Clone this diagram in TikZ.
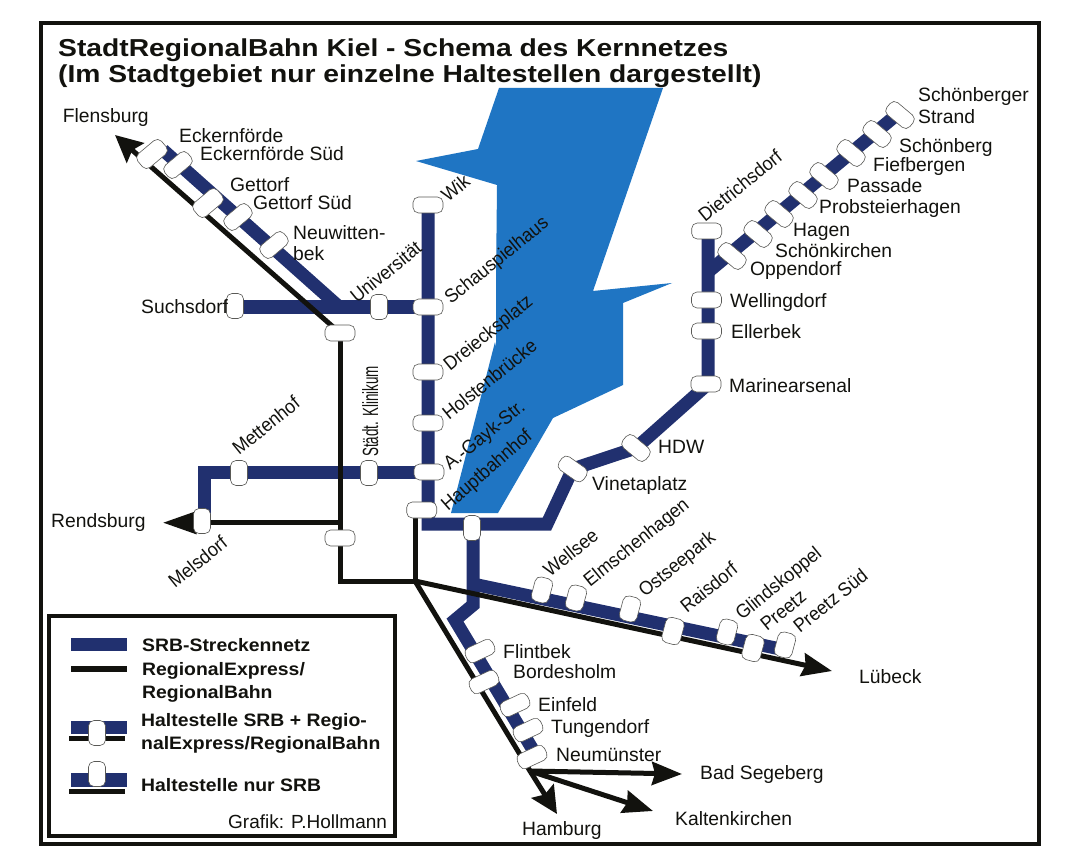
\documentclass[tikz,border=0pt]{standalone}
\usepackage{fontspec}
\usepackage{graphicx}
\setmainfont{Liberation Sans}
\usetikzlibrary{arrows.meta,backgrounds}
\definecolor{srb}{HTML}{21306F}
\definecolor{fjord}{HTML}{1F75C3}
\definecolor{ink}{HTML}{12120E}
\newcommand{\wideT}[1]{\scalebox{1.153}[1]{#1}}
\newcommand{\wideL}[1]{\scalebox{1.077}[1]{#1}}
\newcommand{\slimR}[1]{\scalebox{0.93}[1]{#1}}
\tikzset{
  stop/.style={draw=ink!70,line width=0.6pt,fill=white,minimum width=30pt,minimum height=16pt,inner sep=0pt,rounded corners=5.5pt},
  bigstop/.style={stop,minimum width=31pt,minimum height=18pt},
  vstop/.style={stop,rotate=90,minimum width=25pt,minimum height=17pt},
  lab/.style={inner sep=0pt,anchor=base west,text=ink,font=\fontsize{19.3}{21}\selectfont},
  rlab/.style={lab,rotate=39},
  ttl/.style={inner sep=0pt,anchor=base west,text=ink,font=\fontsize{24.5}{26}\selectfont\bfseries},
  leg/.style={inner sep=0pt,anchor=base west,text=ink,font=\fontsize{18}{20}\selectfont\bfseries},
  navy/.style={draw=srb,line width=13pt,line join=miter},
  rail/.style={draw=ink,line width=5pt,line join=miter},
  head/.style={-{Stealth[length=30pt,width=23pt,inset=3pt]}},
  bluntHead/.style={-{Stealth[length=27pt,width=26pt,inset=4pt]}},
  longHead/.style={-{Stealth[length=33pt,width=22pt,inset=1pt]}},
}
\begin{document}
\begin{tikzpicture}[x=1pt,y=-1pt]
\useasboundingbox (0,0) rectangle (1067,866);

% ---- stops
\node[bigstop,rotate=40] (eck) at (152,154) {};
\node[stop,rotate=40] (ecks) at (178,165) {};
\node[bigstop,rotate=40] (get) at (208,203) {};
\node[stop,rotate=40] (gets) at (238,217) {};
\node[stop,rotate=40] (neu) at (274,245) {};
\node[vstop] (such) at (235,306) {};
\node[vstop] (uni) at (379,307) {};
\node[stop] (wik) at (428,205) {};
\node[stop] (schau) at (428,307) {};
\node[stop] (drei) at (428,372) {};
\node[stop] (holst) at (428,423) {};
\node[stop] (gayk) at (429,472) {};
\node[stop] (hbf) at (421.7,510) {};
\node[stop] (uk1) at (340,333) {};
\node[stop] (uk2) at (340,538) {};
\node[vstop] (mett) at (239,473) {};
\node[vstop] (klin) at (369,473) {};
\node[vstop] (mels) at (202,521) {};
\node[vstop] (hbfs) at (472,528) {};
\node[stop,rotate=-35] (vine) at (572.7,469) {};
\node[stop,rotate=-40] (hdw) at (636,448) {};
\node[stop] (mar) at (706,384) {};
\node[stop] (ell) at (706.5,331) {};
\node[stop] (well) at (706.5,300) {};
\node[stop] (diet) at (706.7,231) {};
\node[stop,rotate=-40] (opp) at (732,256) {};
\node[stop,rotate=-40] (kirch) at (758,234) {};
\node[stop,rotate=-40] (hag) at (779,214) {};
\node[stop,rotate=-40] (prob) at (803,195) {};
\node[stop,rotate=-40] (pass) at (824,176) {};
\node[stop,rotate=-40] (fief) at (851,153) {};
\node[stop,rotate=-40] (schoen) at (877,134) {};
\node[stop,rotate=-40] (strand) at (900,115) {};
\node[stop,rotate=75,minimum width=25pt,minimum height=18pt] (wells) at (542,590) {};
\node[stop,rotate=75,minimum width=25pt,minimum height=18pt] (elm) at (576,598) {};
\node[stop,rotate=75,minimum width=25pt,minimum height=18pt] (ost) at (630,609) {};
\node[stop,rotate=75,minimum width=26pt,minimum height=19pt] (rais) at (673,631) {};
\node[stop,rotate=75,minimum width=25pt,minimum height=18pt] (glind) at (727,632) {};
\node[stop,rotate=75,minimum width=26pt,minimum height=19pt] (pree) at (753,648) {};
\node[stop,rotate=75,minimum width=25pt,minimum height=18pt] (prees) at (785,645) {};
\node[stop,rotate=25] (flint) at (480,651) {};
\node[stop,rotate=25] (bord) at (484,682) {};
\node[stop,rotate=25] (einf) at (515,705) {};
\node[stop,rotate=25] (tung) at (528,730) {};
\node[stop,rotate=25] (neum) at (532,757) {};

% ---- junctions and free ends
\coordinate (jx) at (415,581);
\coordinate (jn) at (530,771);
\coordinate (hbfb) at (415,510);
\coordinate (c1) at (340,581);
\coordinate (c2) at (340,522.7);
\coordinate (tflen) at (115,135);
\coordinate (trend) at (163,522.7);
\coordinate (tlub) at (832,671);
\coordinate (tseg) at (682,774);
\coordinate (tkalt) at (653,811);
\coordinate (tham) at (557,814);
\coordinate (nflen) at (163,150);
\coordinate (nj) at (337,305);
\coordinate (nsuch) at (235,307);
\coordinate (nmain) at (428,307);
\coordinate (nc1) at (428,524);
\coordinate (nc2) at (547,524);
\coordinate (nm1) at (204,472);
\coordinate (nm2) at (204,521);
\coordinate (nd1) at (708,384);
\coordinate (nd2) at (708,231);
\coordinate (nb1) at (708,272);
\coordinate (nb2) at (900,112);
\coordinate (ns1) at (473,524);
\coordinate (ns2) at (473,605);
\coordinate (ns3) at (455,620);
\coordinate (ns4) at (533,750);
\coordinate (nl1) at (473,584);
\coordinate (nl2) at (785,650);

\begin{scope}[on background layer]
  \fill[white] (0,0) rectangle (1067,866);
  \fill[fjord] (499,88) -- (663,88) -- (593,291) -- (672,283) -- (623,303) -- (623,385) -- (553,418) -- (498,513) -- (451,513) -- (495,342) -- (496,347) -- (496,280) -- (497,185) -- (416,161) -- (478,149) -- cycle;
  % SRB network
  \draw[navy] (nflen) -- (nj);
  \draw[navy] (nsuch) -- (nmain);
  \draw[navy] (wik.center) -- (nc1) -- (nc2) -- (vine.center) -- (hdw.center) -- (nd1) -- (nd2);
  \draw[navy] (nb1) -- (nb2);
  \draw[navy] (gayk.center) -- (nm1) -- (nm2);
  \draw[navy] (ns1) -- (ns2) -- (ns3) -- (ns4);
  \draw[navy] (nl1) -- (nl2);
  % RE / RB
  \draw[rail,bluntHead] (uk1.center) -- (tflen);
  \draw[rail] (uk1.center) -- (c1) -- (jx);
  \draw[rail,longHead] (c2) -- (trend);
  \draw[rail] (hbfb) -- (jx);
  \draw[rail,head] (jx) -- (tlub);
  \draw[rail] (jx) -- (jn);
  \draw[rail,bluntHead] (jn) -- (tham);
  \draw[rail,head] (jn) -- (tseg);
  \draw[rail,head] (jn) -- (tkalt);
\end{scope}

% ---- frame
\draw[ink,line width=4pt] (41,23) rectangle (1039,844);

% ---- title
\node[ttl] (t1) at (58,57) {\wideT{StadtRegionalBahn Kiel - Schema des Kernnetzes}};
\node[ttl] (t2) at (58,83) {\wideT{(Im Stadtgebiet nur einzelne Haltestellen dargestellt)}};

% ---- labels
\node[lab] (lflen) at (62.7,123) {Flensburg};
\node[lab] (leck) at (179,143) {Eckernförde};
\node[lab] (lecks) at (200,161) {Eckernförde Süd};
\node[lab] (lget) at (230,192) {Gettorf};
\node[lab] (lgets) at (253,210) {Gettorf Süd};
\node[lab] (lneu) at (293,240) {Neuwitten-};
\node[lab] (lneub) at (293,261) {bek};
\node[lab] (lsuch) at (141,313) {Suchsdorf};
\node[rlab] (luni) at (357,304) {\slimR{Universität}};
\node[rlab] (lwik) at (448,203) {\slimR{Wik}};
\node[rlab] (lschau) at (451,305) {\slimR{Schauspielhaus}};
\node[rlab] (ldrei) at (450,372) {\slimR{Dreiecksplatz}};
\node[rlab] (lholst) at (449,421) {\slimR{Holstenbrücke}};
\node[rlab] (lgayk) at (450,471) {\slimR{A.-Gayk-Str.}};
\node[rlab,rotate=2] (lhbf) at (448,512) {\slimR{Hauptbahnhof}};
\node[rlab] (lmett) at (239,456) {\slimR{Mettenhof}};
\node[lab,rotate=90] (lklin) at (378,457) {\fontsize{22}{24}\selectfont\scalebox{0.61}[1]{Städt. Klinikum}};
\node[rlab] (lmels) at (175,589) {\slimR{Melsdorf}};
\node[lab] (lrend) at (51,527) {Rendsburg};
\node[rlab] (lwell) at (550,578) {\slimR{Wellsee}};
\node[rlab] (lelm) at (590,588) {\slimR{Elmschenhagen}};
\node[rlab] (lost) at (645,598) {\slimR{Ostseepark}};
\node[rlab] (lrais) at (687,614) {\slimR{Raisdorf}};
\node[rlab] (lglind) at (742,621) {\slimR{Glindskoppel}};
\node[rlab] (lpree) at (767,632) {\slimR{Preetz}};
\node[rlab] (lprees) at (800,634) {\slimR{Preetz Süd}};
\node[lab] (llub) at (859,683) {Lübeck};
\node[lab] (lflint) at (503,658) {Flintbek};
\node[lab] (lbord) at (513,678) {Bordesholm};
\node[lab] (leinf) at (538,711) {Einfeld};
\node[lab] (ltung) at (551,733) {Tungendorf};
\node[lab] (lneum) at (556,761) {Neumünster};
\node[lab] (lseg) at (700,779) {Bad Segeberg};
\node[lab] (lkalt) at (675,825) {Kaltenkirchen};
\node[lab] (lham) at (522,835) {Hamburg};
\node[lab] (lvine) at (592,490) {Vinetaplatz};
\node[lab] (lhdw) at (658,453) {HDW};
\node[lab] (lmar) at (729,392) {Marinearsenal};
\node[lab] (lell) at (731,338) {Ellerbek};
\node[lab] (lwellg) at (730,307) {Wellingdorf};
\node[lab] (lopp) at (750,276) {Oppendorf};
\node[lab] (lkirch) at (775,258) {Schönkirchen};
\node[lab] (lhag) at (793,237) {Hagen};
\node[lab] (lprob) at (819,214) {Probsteierhagen};
\node[lab] (lpass) at (847,193) {Passade};
\node[lab] (lfief) at (873,172) {Fiefbergen};
\node[lab] (lschoen) at (899,153) {Schönberg};
\node[lab] (lstr1) at (918,102) {Schönberger};
\node[lab] (lstr2) at (918,124) {Strand};
\node[rlab] (ldiet) at (705,223) {\slimR{Dietrichsdorf}};

% ---- legend
\draw[ink,line width=4pt,fill=white] (49,616) rectangle (395,836);
\fill[srb] (71,638) rectangle (127,651);
\fill[ink] (71,666) rectangle (127,672);
\fill[srb] (71,721) rectangle (127,734);
\fill[ink] (69,736) rectangle (125,741);
\fill[srb] (71,773) rectangle (127,787);
\fill[ink] (69,789) rectangle (125,794);
\node[vstop] (k1) at (97,733) {};
\node[vstop] (k2) at (97,774) {};
\node[leg] (lg1) at (142,651) {\wideL{SRB-Streckennetz}};
\node[leg] (lg2) at (142,675) {\wideL{RegionalExpress/}};
\node[leg] (lg3) at (142,698) {\wideL{RegionalBahn}};
\node[leg] (lg4) at (141,726) {\wideL{Haltestelle SRB + Regio-}};
\node[leg] (lg5) at (141,749) {\wideL{nalExpress/RegionalBahn}};
\node[leg] (lg6) at (141,791) {\wideL{Haltestelle nur SRB}};
\node[lab,font=\fontsize{19}{21}\selectfont] (lg7) at (228,828) {Grafik: P.Hollmann};
\end{tikzpicture}
\end{document}
